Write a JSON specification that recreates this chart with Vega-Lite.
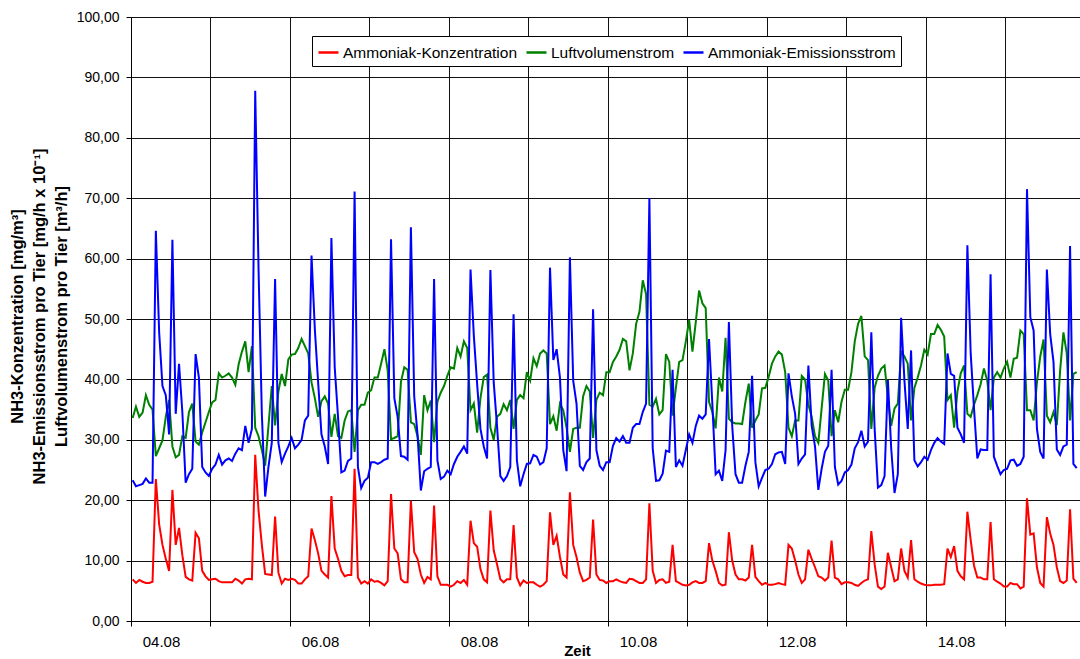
{
"$schema": "https://vega.github.io/schema/vega-lite/v6.json",
"autosize": {"type": "none"},
"padding": {"left": 131, "top": 17, "right": 0, "bottom": 38},
"width": 949,
"height": 604,
"background": "white",
"view": {"stroke": null},
"config": {
  "font": "Liberation Sans",
  "axis": {"gridColor": "#111", "gridOpacity": 1, "gridWidth": 1, "domainColor": "#000", "tickColor": "#000", "labelColor": "#000", "titleColor": "#000", "labelFont": "Liberation Sans", "titleFont": "Liberation Sans", "labelOverlap": false, "labelFlush": false}
},
"data": {"values": [
{"h":0,"k":6.9,"l":33.6,"e":23.3},{"h":1,"k":6.3,"l":35.5,"e":22.3},{"h":2,"k":6.8,"l":33.8,"e":22.5},{"h":3,"k":6.5,"l":34.5,"e":22.7},{"h":4,"k":6.3,"l":37.4,"e":23.6},{"h":5,"k":6.3,"l":35.8,"e":22.9},{"h":6,"k":6.5,"l":35.0,"e":22.9},{"h":7,"k":23.5,"l":27.3,"e":64.6},{"h":8,"k":16.0,"l":28.6,"e":47.8},{"h":9,"k":12.6,"l":29.9,"e":38.9},
{"h":10,"k":10.3,"l":33.8,"e":37.4},{"h":11,"k":8.3,"l":36.6,"e":30.9},{"h":12,"k":21.7,"l":28.9,"e":63.1},{"h":13,"k":12.6,"l":27.1,"e":34.3},{"h":14,"k":15.4,"l":27.5,"e":42.6},{"h":15,"k":10.9,"l":30.6,"e":34.6},{"h":16,"k":7.3,"l":30.3,"e":22.9},{"h":17,"k":6.9,"l":34.6,"e":24.3},{"h":18,"k":6.7,"l":36.0,"e":25.2},{"h":19,"k":14.6,"l":29.7,"e":44.2},
{"h":20,"k":13.7,"l":29.2,"e":40.3},{"h":21,"k":8.3,"l":31.2,"e":25.5},{"h":22,"k":7.4,"l":32.9,"e":24.6},{"h":23,"k":6.8,"l":34.6,"e":24.0},{"h":24,"k":6.9,"l":36.2,"e":25.2},{"h":25,"k":7.0,"l":36.6,"e":25.9},{"h":26,"k":6.6,"l":41.0,"e":27.5},{"h":27,"k":6.4,"l":40.3,"e":25.9},{"h":28,"k":6.4,"l":40.6,"e":26.6},{"h":29,"k":6.4,"l":41.0,"e":26.9},
{"h":30,"k":6.4,"l":40.3,"e":26.5},{"h":31,"k":7.0,"l":39.1,"e":27.7},{"h":32,"k":6.7,"l":42.5,"e":28.6},{"h":33,"k":6.2,"l":44.6,"e":28.3},{"h":34,"k":6.9,"l":46.3,"e":32.3},{"h":35,"k":7.0,"l":41.2,"e":29.5},{"h":36,"k":6.9,"l":45.5,"e":31.8},{"h":37,"k":27.5,"l":32.0,"e":87.8},{"h":38,"k":18.3,"l":30.6,"e":58.4},{"h":39,"k":12.6,"l":28.3,"e":34.3},
{"h":40,"k":7.8,"l":25.7,"e":20.6},{"h":41,"k":7.7,"l":32.3,"e":25.5},{"h":42,"k":7.6,"l":38.9,"e":29.5},{"h":43,"k":17.3,"l":32.4,"e":56.6},{"h":44,"k":8.0,"l":38.0,"e":29.5},{"h":45,"k":6.2,"l":40.9,"e":26.3},{"h":46,"k":7.0,"l":38.9,"e":27.7},{"h":47,"k":6.8,"l":43.3,"e":28.9},{"h":48,"k":7.0,"l":44.1,"e":30.3},{"h":49,"k":6.8,"l":44.2,"e":28.6},
{"h":50,"k":6.2,"l":45.2,"e":29.2},{"h":51,"k":6.2,"l":46.7,"e":30.0},{"h":52,"k":6.9,"l":45.5,"e":33.2},{"h":53,"k":7.4,"l":44.3,"e":34.0},{"h":54,"k":15.3,"l":39.5,"e":60.5},{"h":55,"k":13.4,"l":36.9,"e":48.3},{"h":56,"k":11.2,"l":33.8,"e":39.5},{"h":57,"k":8.3,"l":36.4,"e":30.9},{"h":58,"k":7.7,"l":37.2,"e":28.9},{"h":59,"k":7.2,"l":36.0,"e":26.0},
{"h":60,"k":20.7,"l":30.5,"e":63.4},{"h":61,"k":12.0,"l":34.3,"e":42.0},{"h":62,"k":10.3,"l":30.6,"e":33.8},{"h":63,"k":8.3,"l":30.3,"e":24.6},{"h":64,"k":7.4,"l":33.2,"e":24.9},{"h":65,"k":7.6,"l":34.7,"e":26.5},{"h":66,"k":7.6,"l":34.9,"e":26.9},{"h":67,"k":25.2,"l":28.0,"e":71.1},{"h":68,"k":7.2,"l":34.9,"e":25.5},{"h":69,"k":6.2,"l":35.8,"e":22.0},
{"h":70,"k":6.6,"l":35.8,"e":23.2},{"h":71,"k":6.2,"l":37.8,"e":23.7},{"h":72,"k":6.9,"l":38.2,"e":26.3},{"h":73,"k":6.5,"l":40.3,"e":26.3},{"h":74,"k":6.6,"l":40.3,"e":26.0},{"h":75,"k":6.3,"l":42.6,"e":26.3},{"h":76,"k":5.9,"l":45.0,"e":26.7},{"h":77,"k":6.6,"l":41.5,"e":26.9},{"h":78,"k":21.0,"l":30.1,"e":63.2},{"h":79,"k":12.0,"l":30.3,"e":36.9},
{"h":80,"k":11.2,"l":30.6,"e":33.8},{"h":81,"k":6.9,"l":39.6,"e":27.3},{"h":82,"k":6.4,"l":42.0,"e":27.2},{"h":83,"k":6.4,"l":41.6,"e":26.7},{"h":84,"k":19.9,"l":32.9,"e":65.2},{"h":85,"k":11.4,"l":32.6,"e":37.2},{"h":86,"k":10.3,"l":30.6,"e":30.9},{"h":87,"k":7.7,"l":27.5,"e":21.6},{"h":88,"k":6.3,"l":37.4,"e":24.8},{"h":89,"k":7.3,"l":34.9,"e":25.2},
{"h":90,"k":6.9,"l":36.5,"e":25.5},{"h":91,"k":19.1,"l":29.6,"e":56.6},{"h":92,"k":7.4,"l":36.3,"e":26.6},{"h":93,"k":6.0,"l":37.8,"e":23.5},{"h":94,"k":6.0,"l":38.9,"e":23.9},{"h":95,"k":6.0,"l":40.6,"e":24.9},{"h":96,"k":5.7,"l":42.0,"e":24.3},{"h":97,"k":6.0,"l":41.8,"e":26.0},{"h":98,"k":6.6,"l":45.2,"e":27.2},{"h":99,"k":6.3,"l":43.8,"e":28.0},
{"h":100,"k":6.8,"l":46.3,"e":28.9},{"h":101,"k":6.0,"l":45.2,"e":27.7},{"h":102,"k":16.6,"l":34.9,"e":58.2},{"h":103,"k":12.9,"l":36.0,"e":47.2},{"h":104,"k":12.3,"l":31.2,"e":39.2},{"h":105,"k":8.6,"l":36.9,"e":31.8},{"h":106,"k":6.9,"l":40.4,"e":28.9},{"h":107,"k":6.4,"l":40.8,"e":26.9},{"h":108,"k":18.3,"l":32.0,"e":58.1},{"h":109,"k":11.7,"l":30.0,"e":39.5},
{"h":110,"k":9.4,"l":33.8,"e":32.3},{"h":111,"k":6.9,"l":34.3,"e":24.0},{"h":112,"k":6.4,"l":35.9,"e":23.2},{"h":113,"k":6.9,"l":34.9,"e":24.0},{"h":114,"k":6.9,"l":36.6,"e":25.5},{"h":115,"k":15.9,"l":31.8,"e":50.8},{"h":116,"k":7.2,"l":36.6,"e":26.6},{"h":117,"k":5.9,"l":37.4,"e":22.3},{"h":118,"k":6.7,"l":36.9,"e":24.3},{"h":119,"k":6.3,"l":41.2,"e":26.0},
{"h":120,"k":6.4,"l":39.8,"e":26.1},{"h":121,"k":6.4,"l":43.5,"e":27.5},{"h":122,"k":6.0,"l":42.2,"e":27.2},{"h":123,"k":5.7,"l":44.3,"e":25.9},{"h":124,"k":6.0,"l":44.8,"e":26.3},{"h":125,"k":6.6,"l":44.3,"e":28.6},{"h":126,"k":18.0,"l":32.6,"e":58.5},{"h":127,"k":12.6,"l":33.9,"e":43.2},{"h":128,"k":14.1,"l":31.5,"e":45.0},{"h":129,"k":10.6,"l":36.0,"e":40.3},
{"h":130,"k":7.7,"l":34.9,"e":28.3},{"h":131,"k":7.2,"l":32.0,"e":24.8},{"h":132,"k":21.3,"l":28.0,"e":60.2},{"h":133,"k":12.6,"l":31.8,"e":39.8},{"h":134,"k":10.6,"l":32.0,"e":36.0},{"h":135,"k":8.0,"l":32.0,"e":25.7},{"h":136,"k":6.6,"l":37.2,"e":25.0},{"h":137,"k":6.8,"l":38.9,"e":26.3},{"h":138,"k":7.2,"l":38.0,"e":26.9},{"h":139,"k":16.8,"l":30.3,"e":51.6},
{"h":140,"k":7.7,"l":36.6,"e":28.3},{"h":141,"k":6.8,"l":37.8,"e":25.7},{"h":142,"k":6.7,"l":37.4,"e":25.0},{"h":143,"k":6.3,"l":41.2,"e":26.3},{"h":144,"k":6.6,"l":41.2,"e":26.3},{"h":145,"k":6.6,"l":42.9,"e":29.0},{"h":146,"k":6.9,"l":43.8,"e":30.3},{"h":147,"k":6.6,"l":44.9,"e":29.7},{"h":148,"k":6.4,"l":46.7,"e":30.6},{"h":149,"k":6.3,"l":46.3,"e":29.5},
{"h":150,"k":7.0,"l":41.5,"e":29.5},{"h":151,"k":6.9,"l":44.3,"e":32.0},{"h":152,"k":6.6,"l":49.2,"e":32.6},{"h":153,"k":6.3,"l":51.2,"e":32.6},{"h":154,"k":6.3,"l":56.4,"e":34.6},{"h":155,"k":6.9,"l":54.1,"e":36.0},{"h":156,"k":19.5,"l":35.8,"e":70.0},{"h":157,"k":8.3,"l":35.5,"e":28.6},{"h":158,"k":6.3,"l":36.8,"e":23.2},{"h":159,"k":6.8,"l":34.2,"e":23.3},
{"h":160,"k":6.9,"l":34.9,"e":24.4},{"h":161,"k":6.3,"l":44.2,"e":28.2},{"h":162,"k":6.5,"l":42.9,"e":28.0},{"h":163,"k":12.6,"l":34.0,"e":41.6},{"h":164,"k":6.6,"l":38.6,"e":25.5},{"h":165,"k":6.3,"l":42.9,"e":26.6},{"h":166,"k":6.0,"l":43.2,"e":25.7},{"h":167,"k":5.9,"l":46.3,"e":28.3},{"h":168,"k":6.0,"l":49.8,"e":30.9},{"h":169,"k":6.4,"l":44.6,"e":29.5},
{"h":170,"k":6.6,"l":49.5,"e":32.3},{"h":171,"k":6.3,"l":54.7,"e":34.0},{"h":172,"k":6.3,"l":52.6,"e":33.5},{"h":173,"k":6.6,"l":51.8,"e":34.2},{"h":174,"k":12.9,"l":36.3,"e":46.7},{"h":175,"k":10.0,"l":34.6,"e":36.0},{"h":176,"k":8.3,"l":31.9,"e":24.3},{"h":177,"k":6.3,"l":40.3,"e":24.9},{"h":178,"k":5.9,"l":38.0,"e":23.2},{"h":179,"k":6.0,"l":46.9,"e":28.3},
{"h":180,"k":14.7,"l":33.5,"e":49.5},{"h":181,"k":10.0,"l":32.9,"e":32.3},{"h":182,"k":7.7,"l":32.7,"e":24.3},{"h":183,"k":6.9,"l":32.7,"e":22.9},{"h":184,"k":6.9,"l":32.6,"e":22.9},{"h":185,"k":6.7,"l":36.3,"e":25.7},{"h":186,"k":7.2,"l":39.3,"e":28.0},{"h":187,"k":12.6,"l":32.0,"e":40.6},{"h":188,"k":7.3,"l":33.2,"e":26.3},{"h":189,"k":6.6,"l":34.2,"e":22.3},
{"h":190,"k":6.0,"l":38.5,"e":23.7},{"h":191,"k":6.3,"l":38.6,"e":25.0},{"h":192,"k":6.0,"l":40.4,"e":25.2},{"h":193,"k":6.0,"l":42.6,"e":26.0},{"h":194,"k":6.1,"l":43.8,"e":27.6},{"h":195,"k":6.3,"l":44.6,"e":27.9},{"h":196,"k":6.1,"l":44.1,"e":28.0},{"h":197,"k":6.0,"l":41.2,"e":26.0},{"h":198,"k":12.6,"l":32.0,"e":41.0},{"h":199,"k":12.0,"l":30.6,"e":37.2},
{"h":200,"k":10.0,"l":33.2,"e":34.3},{"h":201,"k":7.7,"l":33.2,"e":26.0},{"h":202,"k":6.3,"l":40.6,"e":26.9},{"h":203,"k":6.9,"l":40.0,"e":27.6},{"h":204,"k":11.8,"l":35.8,"e":42.3},{"h":205,"k":10.3,"l":33.8,"e":32.3},{"h":206,"k":8.9,"l":30.6,"e":28.9},{"h":207,"k":7.4,"l":29.5,"e":21.7},{"h":208,"k":7.2,"l":35.2,"e":25.2},{"h":209,"k":6.7,"l":40.9,"e":28.0},
{"h":210,"k":7.2,"l":39.8,"e":29.0},{"h":211,"k":13.3,"l":30.6,"e":41.6},{"h":212,"k":7.2,"l":34.9,"e":25.5},{"h":213,"k":6.9,"l":32.9,"e":22.6},{"h":214,"k":6.1,"l":36.3,"e":23.2},{"h":215,"k":6.4,"l":38.3,"e":24.6},{"h":216,"k":6.4,"l":38.3,"e":25.0},{"h":217,"k":6.3,"l":41.2,"e":25.9},{"h":218,"k":6.0,"l":46.3,"e":28.6},{"h":219,"k":5.8,"l":49.2,"e":29.6},
{"h":220,"k":6.3,"l":50.5,"e":31.5},{"h":221,"k":6.7,"l":43.8,"e":28.9},{"h":222,"k":6.9,"l":43.2,"e":29.7},{"h":223,"k":14.9,"l":31.8,"e":47.8},{"h":224,"k":9.4,"l":38.6,"e":31.8},{"h":225,"k":5.7,"l":40.6,"e":22.1},{"h":226,"k":5.3,"l":41.8,"e":22.5},{"h":227,"k":5.7,"l":42.3,"e":24.0},{"h":228,"k":11.3,"l":36.9,"e":39.9},{"h":229,"k":8.9,"l":32.3,"e":28.6},
{"h":230,"k":6.6,"l":35.2,"e":21.2},{"h":231,"k":6.9,"l":36.0,"e":24.3},{"h":232,"k":12.0,"l":44.6,"e":50.2},{"h":233,"k":8.3,"l":43.8,"e":39.8},{"h":234,"k":7.2,"l":42.6,"e":31.8},{"h":235,"k":13.4,"l":33.2,"e":44.8},{"h":236,"k":6.9,"l":38.6,"e":26.6},{"h":237,"k":6.5,"l":40.3,"e":25.6},{"h":238,"k":6.2,"l":42.3,"e":26.3},{"h":239,"k":6.0,"l":44.9,"e":27.2},
{"h":240,"k":5.9,"l":44.1,"e":26.7},{"h":241,"k":5.9,"l":47.5,"e":28.3},{"h":242,"k":6.0,"l":47.5,"e":29.5},{"h":243,"k":6.0,"l":49.0,"e":30.3},{"h":244,"k":6.0,"l":48.2,"e":29.7},{"h":245,"k":6.1,"l":47.1,"e":29.3},{"h":246,"k":12.0,"l":36.6,"e":44.3},{"h":247,"k":10.6,"l":37.4,"e":40.9},{"h":248,"k":12.4,"l":32.0,"e":40.6},{"h":249,"k":8.3,"l":38.0,"e":32.0},
{"h":250,"k":7.4,"l":41.0,"e":30.9},{"h":251,"k":6.9,"l":42.3,"e":29.5},{"h":252,"k":18.1,"l":34.3,"e":62.2},{"h":253,"k":13.4,"l":33.8,"e":44.3},{"h":254,"k":9.2,"l":35.8,"e":35.2},{"h":255,"k":7.2,"l":37.4,"e":26.9},{"h":256,"k":7.2,"l":39.2,"e":28.4},{"h":257,"k":6.9,"l":41.8,"e":28.3},{"h":258,"k":6.9,"l":39.8,"e":28.3},{"h":259,"k":16.4,"l":34.9,"e":57.4},
{"h":260,"k":6.9,"l":40.3,"e":27.2},{"h":261,"k":6.5,"l":41.2,"e":25.7},{"h":262,"k":6.2,"l":40.3,"e":24.3},{"h":263,"k":5.7,"l":41.8,"e":25.0},{"h":264,"k":5.7,"l":42.9,"e":25.2},{"h":265,"k":6.3,"l":40.3,"e":26.6},{"h":266,"k":6.1,"l":43.4,"e":26.7},{"h":267,"k":6.1,"l":43.6,"e":25.7},{"h":268,"k":5.4,"l":48.1,"e":26.0},{"h":269,"k":5.7,"l":47.5,"e":27.2},
{"h":270,"k":20.3,"l":34.9,"e":71.5},{"h":271,"k":14.3,"l":34.9,"e":50.3},{"h":272,"k":14.5,"l":33.2,"e":48.1},{"h":273,"k":8.9,"l":39.5,"e":31.8},{"h":274,"k":6.3,"l":43.8,"e":28.0},{"h":275,"k":5.7,"l":46.6,"e":26.9},{"h":276,"k":17.2,"l":34.0,"e":58.2},{"h":277,"k":14.5,"l":32.9,"e":47.5},{"h":278,"k":12.6,"l":34.6,"e":42.9},{"h":279,"k":8.9,"l":32.4,"e":28.4},
{"h":280,"k":6.6,"l":41.5,"e":27.5},{"h":281,"k":6.3,"l":47.8,"e":28.9},{"h":282,"k":6.7,"l":44.3,"e":29.2},{"h":283,"k":18.5,"l":33.2,"e":62.1},{"h":284,"k":7.0,"l":40.9,"e":26.0},{"h":285,"k":6.3,"l":41.2,"e":25.3}
]},
"encoding": {
  "x": {"field": "h", "type": "quantitative",
    "scale": {"domain": [-0.5, 286], "nice": false, "zero": false},
    "axis": {"values": [-0.5, 23.5, 47.5, 71.5, 95.5, 119.5, 143.5, 167.5, 191.5, 215.5, 239.5, 263.5],
      "grid": true, "tickSize": 5, "labelPadding": 8, "labelOffset": 30, "labelFontSize": 15,
      "labelExpr": "(datum.value + 0.5) % 48 == 0 ? ((4 + (datum.value + 0.5) / 24) < 10 ? '0' : '') + (4 + (datum.value + 0.5) / 24) + '.08' : ''",
      "title": "Zeit", "titleFontSize": 15, "titleFontWeight": "bold", "titleX": 446, "titleY": 34, "titleBaseline": "alphabetic"}}
},
"layer": [
  {"mark": {"type": "line", "strokeWidth": 2},
   "encoding": {
     "y": {"field": "k", "type": "quantitative",
       "scale": {"domain": [0, 100], "nice": false},
       "axis": {"values": [0,10,20,30,40,50,60,70,80,90,100], "grid": true, "tickSize": 5, "labelPadding": 7, "labelFontSize": 14,
         "labelExpr": "replace(format(datum.value, '.2f'), '.', ',')",
         "title": ["NH3-Konzentration [mg/m³]", "NH3-Emissionsstrom pro Tier [mg/h x 10⁻¹]", "Luftvolumenstrom pro Tier [m³/h]"],
         "titleFontSize": 16.5, "titleFontWeight": "bold", "titleAngle": -90, "titleX": -114, "titleY": 299, "titleBaseline": "middle", "titleAlign": "center", "titleLineHeight": 22}},
     "color": {"datum": "Ammoniak-Konzentration",
       "scale": {"domain": ["Ammoniak-Konzentration", "Luftvolumenstrom", "Ammoniak-Emissionsstrom"], "range": ["#ff0000", "#008000", "#0000ff"]},
       "legend": {"orient": "none", "legendX": 181, "legendY": 19, "direction": "horizontal", "title": null,
         "symbolType": "stroke", "symbolSize": 400, "symbolStrokeWidth": 2.5, "labelFontSize": 15.5, "labelColor": "#000", "labelFont": "Liberation Sans",
         "fillColor": "#ffffff", "strokeColor": "#000000", "padding": 5, "columnPadding": 3, "labelOffset": 3, "labelLimit": 0}}
   }},
  {"mark": {"type": "line", "strokeWidth": 2},
   "encoding": {"y": {"field": "l", "type": "quantitative"}, "color": {"datum": "Luftvolumenstrom"}}},
  {"mark": {"type": "line", "strokeWidth": 2},
   "encoding": {"y": {"field": "e", "type": "quantitative"}, "color": {"datum": "Ammoniak-Emissionsstrom"}}}
]
}
